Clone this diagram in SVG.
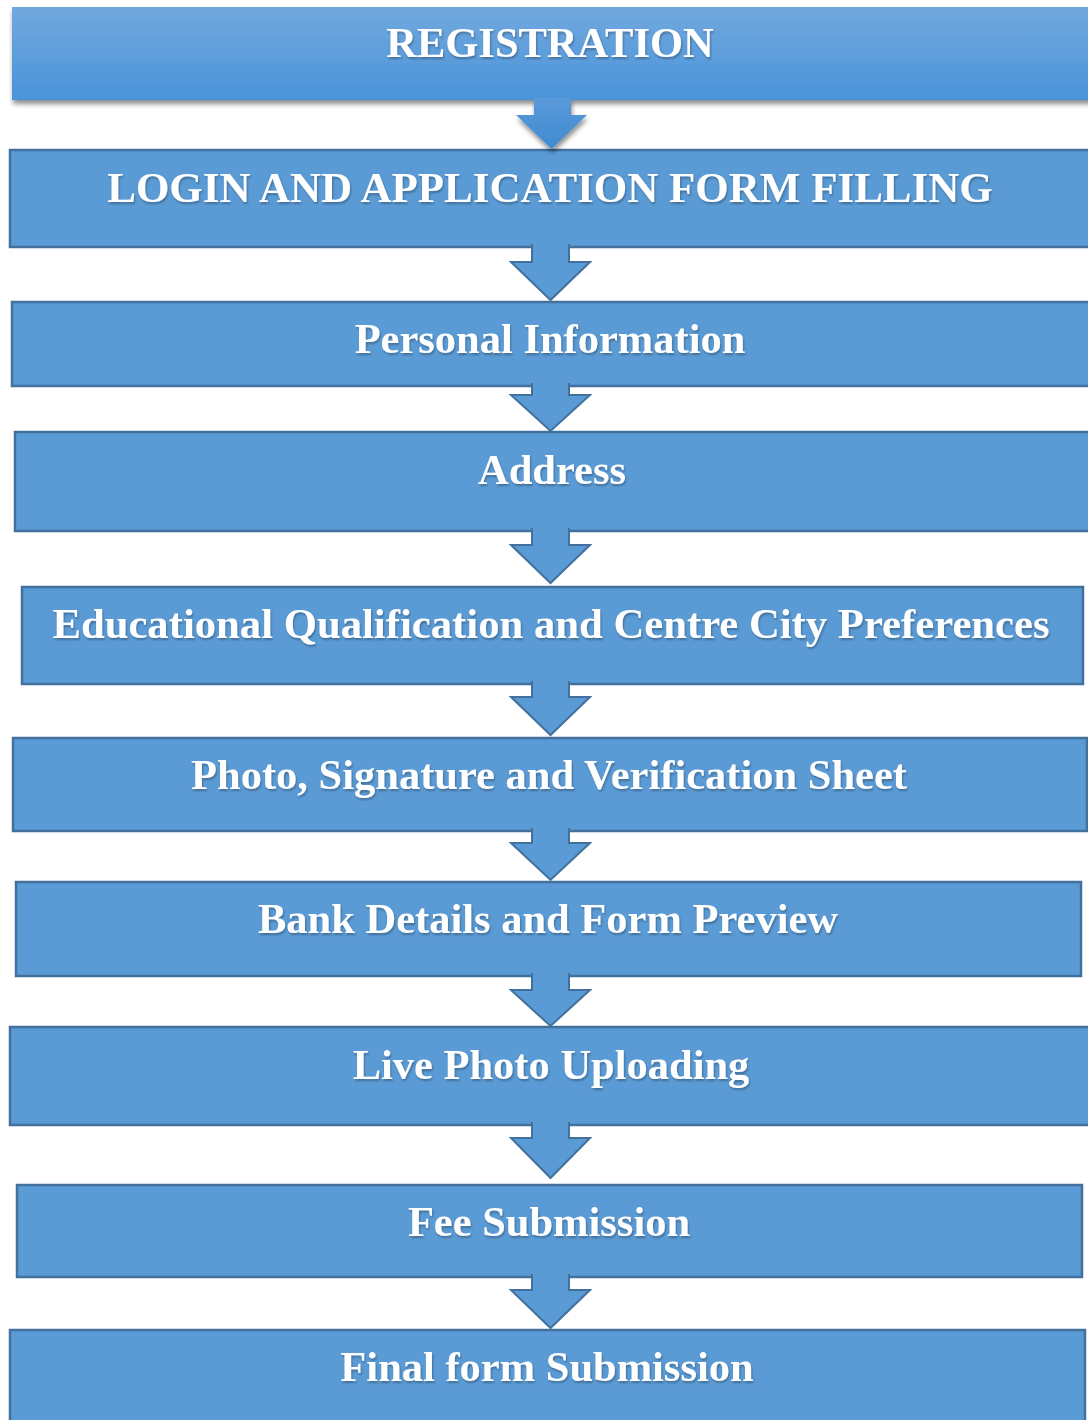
<svg xmlns="http://www.w3.org/2000/svg" width="1088" height="1420" viewBox="0 0 1088 1420">
<defs>
<linearGradient id="g1" x1="0" y1="0" x2="0" y2="1">
<stop offset="0" stop-color="#72a8de"/>
<stop offset="1" stop-color="#4a94d9"/>
</linearGradient>
<linearGradient id="g2" x1="0" y1="0" x2="0" y2="1">
<stop offset="0" stop-color="#5a9ad9"/>
<stop offset="1" stop-color="#3f8ad0"/>
</linearGradient>
<filter id="sh" x="-5%" y="-20%" width="110%" height="150%">
<feGaussianBlur in="SourceAlpha" stdDeviation="2.5"/>
<feOffset dx="1" dy="4" result="b"/>
<feComponentTransfer><feFuncA type="linear" slope="0.45"/></feComponentTransfer>
<feMerge><feMergeNode/><feMergeNode in="SourceGraphic"/></feMerge>
</filter>
<filter id="ts" x="-5%" y="-20%" width="110%" height="150%">
<feGaussianBlur in="SourceAlpha" stdDeviation="0.8"/>
<feOffset dx="1" dy="1.5" result="b"/>
<feComponentTransfer><feFuncA type="linear" slope="0.3"/></feComponentTransfer>
<feMerge><feMergeNode/><feMergeNode in="SourceGraphic"/></feMerge>
</filter>
</defs>
<style>
.box{fill:#5b9bd5;stroke:#41719c;stroke-width:2.5}
.arr{fill:#5b9bd5;stroke:#41719c;stroke-width:2;stroke-linejoin:miter}
.t{font-family:"Liberation Serif","Times New Roman",serif;font-weight:bold;font-size:42.5px;fill:#ffffff;text-anchor:middle;filter:url(#ts)}
</style>
<rect width="1088" height="1420" fill="#ffffff"/>

<g id="n1">
<rect x="12" y="7" width="1090" height="93" fill="url(#g1)" filter="url(#sh)"/>
<text class="t" x="550" y="57">REGISTRATION</text>
</g>
<g id="n2">
<rect class="box" x="10" y="150" width="1090" height="97"/>
<text class="t" x="550" y="202" style="font-size:43px">LOGIN AND APPLICATION FORM FILLING</text>
</g>
<g id="n3">
<rect class="box" x="12" y="302" width="1088" height="84"/>
<text class="t" x="550" y="353">Personal Information</text>
</g>
<g id="n4">
<rect class="box" x="15" y="432" width="1085" height="99"/>
<text class="t" x="552" y="484">Address</text>
</g>
<g id="n5">
<rect class="box" x="22" y="587" width="1061" height="97"/>
<text class="t" x="551" y="638" style="font-size:42.7px">Educational Qualification and Centre City Preferences</text>
</g>
<g id="n6">
<rect class="box" x="13" y="738" width="1074" height="93"/>
<text class="t" x="549" y="789">Photo, Signature and Verification Sheet</text>
</g>
<g id="n7">
<rect class="box" x="16" y="882" width="1065" height="94"/>
<text class="t" x="548" y="933">Bank Details and Form Preview</text>
</g>
<g id="n8">
<rect class="box" x="10" y="1027" width="1090" height="98"/>
<text class="t" x="551" y="1079">Live Photo Uploading</text>
</g>
<g id="n9">
<rect class="box" x="17" y="1185" width="1065" height="92"/>
<text class="t" x="549" y="1236">Fee Submission</text>
</g>
<g id="n10">
<rect class="box" x="10" y="1330" width="1075" height="100"/>
<text class="t" x="547" y="1381">Final form Submission</text>
</g>

<g id="connectors">
<path d="M534,98 L534,115 L516,115 L551.5,149 L587,115 L571,115 L571,98 Z" fill="url(#g2)" filter="url(#sh)"/>
<path class="arr" d="M532,244 L532,262 L511,262 L550.5,300 L590,262 L569,262 L569,244"/>
<path class="arr" d="M532,383 L532,395 L511,395 L550.5,431 L590,395 L569,395 L569,383"/>
<path class="arr" d="M532,528 L532,545 L511,545 L550.5,583 L590,545 L569,545 L569,528"/>
<path class="arr" d="M532,681 L532,697 L511,697 L550.5,735 L590,697 L569,697 L569,681"/>
<path class="arr" d="M532,828 L532,843 L511,843 L550.5,880 L590,843 L569,843 L569,828"/>
<path class="arr" d="M532,973 L532,990 L511,990 L550.5,1026 L590,990 L569,990 L569,973"/>
<path class="arr" d="M532,1122 L532,1138 L511,1138 L550.5,1178 L590,1138 L569,1138 L569,1122"/>
<path class="arr" d="M532,1274 L532,1290 L511,1290 L550.5,1328 L590,1290 L569,1290 L569,1274"/>
</g>
</svg>
